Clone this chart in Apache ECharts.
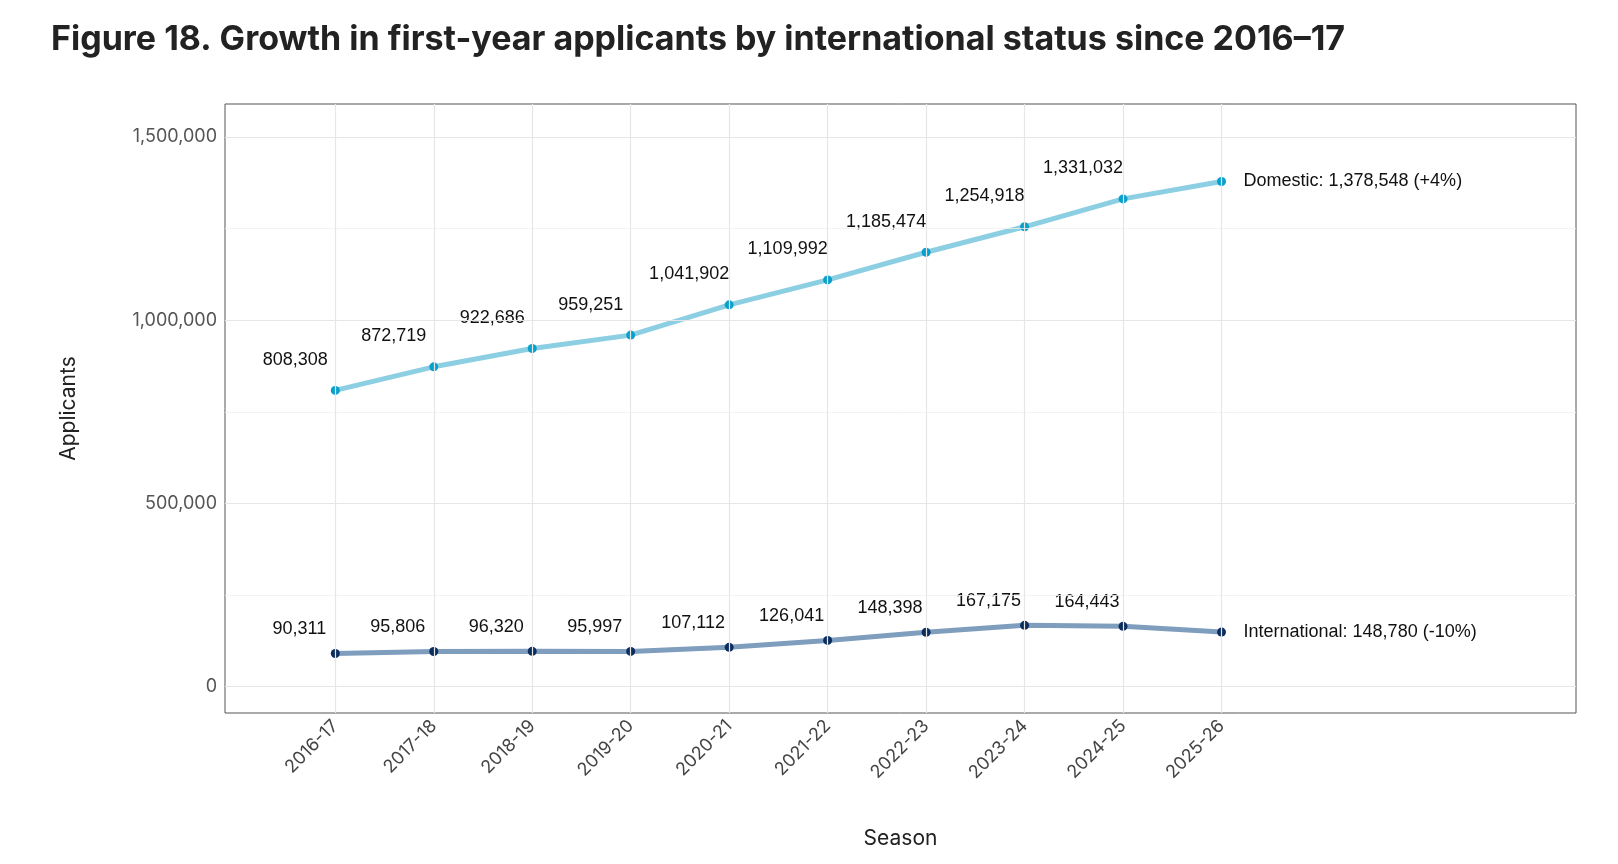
<!DOCTYPE html>
<html>
<head>
<meta charset="utf-8">
<script src="https://cdn.jsdelivr.net/npm/echarts@6/dist/echarts.min.js"></script>
<style>html,body{margin:0;padding:0;background:#fff}#chart{width:1618px;height:864px}</style>
</head>
<body>
<div id="chart"></div>
<script>
// 数据
const seasons = ['2016-17', '2017-18', '2018-19', '2019-20', '2020-21', '2021-22', '2022-23', '2023-24', '2024-25', '2025-26'];
const domestic = [808308, 872719, 922686, 959251, 1041902, 1109992, 1185474, 1254918, 1331032, 1378548];
const international = [90311, 95806, 96320, 95997, 107112, 126041, 148398, 167175, 164443, 148780];
const yTicks = [0, 500000, 1000000, 1500000];
const yMinorGrid = [250000, 750000, 1250000];

const fmt = v => v.toLocaleString('en-US');
const lastIdx = seasons.length - 1;
// 最后一个点用 endLabel，不显示普通标签
const toPts = arr => arr.map((v, i) => (i === lastIdx ? { value: [i, v], label: { show: false } } : [i, v]));

let chart = echarts.init(document.getElementById('chart'));

// 网格线用 markLine 画
const gridLines = {
  silent: true,
  symbol: 'none',
  label: { show: false },
  data: [
    ...yTicks.map(v => ({ yAxis: v, lineStyle: { color: '#e6e6e6', width: 1.2, type: 'solid' } })),
    ...yMinorGrid.map(v => ({ yAxis: v, lineStyle: { color: '#f0f0f0', width: 0.8, type: 'solid' } })),
    ...seasons.map((s, i) => ({ xAxis: i, lineStyle: { color: '#e6e6e6', width: 1.2, type: 'solid' } }))
  ]
};

let option = {
  animation: false,
  title: {
    text: 'Figure 18. Growth in first-year applicants by international status since 2016\u201317',
    left: 46,
    top: 18,
    textStyle: { fontFamily: 'Inter', fontWeight: 'bold', fontSize: 34, color: '#222' }
  },
  grid: { left: 225, right: 42, top: 104, bottom: 151, show: true, borderColor: '#555', borderWidth: 1 },
  xAxis: {
    type: 'value',
    min: -1.12,
    max: 12.6,
    name: 'Season',
    nameLocation: 'middle',
    nameGap: 115,
    nameTextStyle: { fontFamily: 'Inter', fontSize: 21, color: '#222' },
    axisLine: { show: false },
    splitLine: { show: false },
    axisTick: { show: true, customValues: seasons.map((s, i) => i), length: 6, lineStyle: { color: '#555' } },
    axisLabel: {
      customValues: seasons.map((s, i) => i),
      formatter: v => seasons[v] || '',
      rotate: 45,
      fontFamily: 'Inter',
      fontSize: 18,
      color: '#444',
      margin: 10
    }
  },
  yAxis: {
    type: 'value',
    min: -72000,
    max: 1590000,
    name: 'Applicants',
    nameLocation: 'middle',
    nameGap: 146,
    nameTextStyle: { fontFamily: 'Inter', fontSize: 21, color: '#222' },
    axisLine: { show: false },
    splitLine: { show: false },
    axisTick: { show: true, customValues: yTicks, length: 6, lineStyle: { color: '#555' } },
    axisLabel: {
      customValues: yTicks,
      formatter: v => fmt(v),
      fontFamily: 'Inter',
      fontSize: 18,
      color: '#555'
    }
  },
  series: [
    {
      name: 'Domestic',
      type: 'line',
      data: toPts(domestic),
      symbol: 'circle',
      symbolSize: 9,
      itemStyle: { color: '#0aa0cc' },
      lineStyle: { color: '#8ccfe3', width: 5 },
      label: {
        show: true,
        position: 'top',
        offset: [-40, -12],
        formatter: p => fmt(p.value[1]),
        fontFamily: 'Liberation Sans',
        fontSize: 18,
        color: '#111'
      },
      endLabel: {
        show: true,
        formatter: p => 'Domestic: ' + fmt(p.value[1]) + ' (+4%)',
        fontFamily: 'Liberation Sans',
        fontSize: 18,
        color: '#111',
        distance: 22
      },
      markLine: gridLines,
      z: 3
    },
    {
      name: 'International',
      type: 'line',
      data: toPts(international),
      symbol: 'circle',
      symbolSize: 9,
      itemStyle: { color: '#0b2e5e' },
      lineStyle: { color: '#7f9dbd', width: 5 },
      label: {
        show: true,
        position: 'top',
        offset: [-36, -6],
        formatter: p => fmt(p.value[1]),
        fontFamily: 'Liberation Sans',
        fontSize: 18,
        color: '#111'
      },
      endLabel: {
        show: true,
        formatter: p => 'International: ' + fmt(p.value[1]) + ' (-10%)',
        fontFamily: 'Liberation Sans',
        fontSize: 18,
        color: '#111',
        distance: 22
      },
      z: 3
    }
  ]
};
chart.setOption(option);
</script>
</body>
</html>
